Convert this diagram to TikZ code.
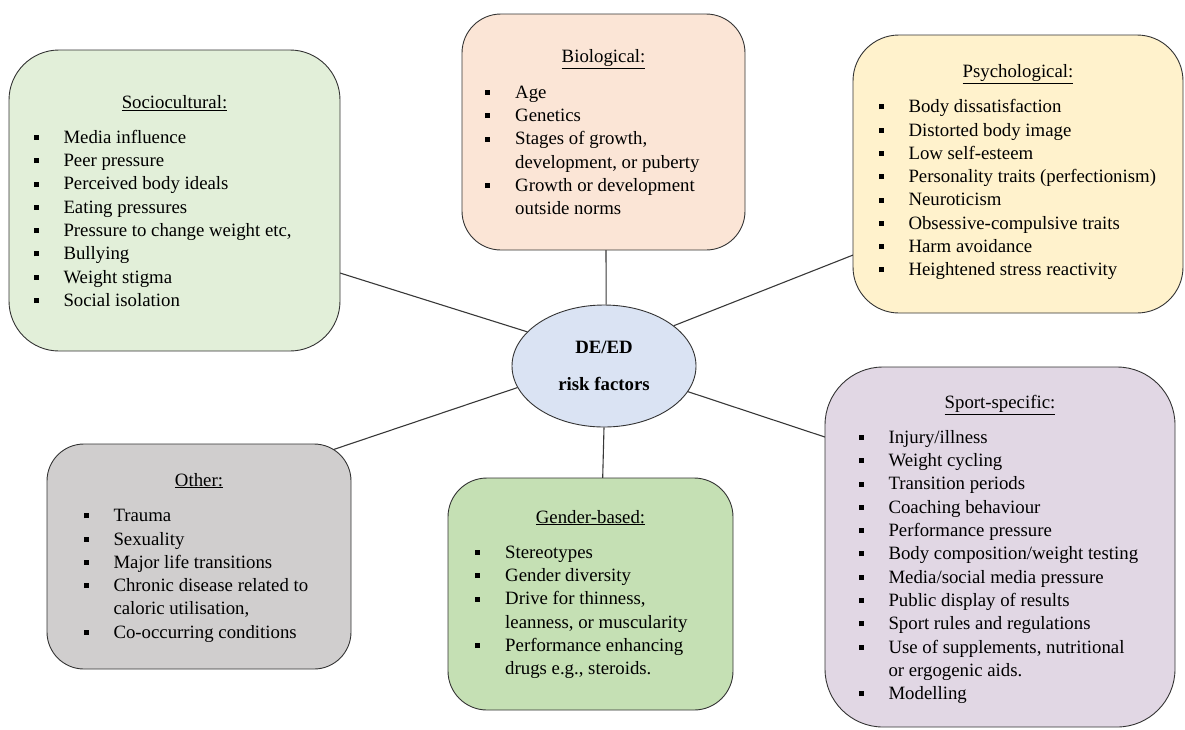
\documentclass[tikz,border=0pt]{standalone}
\usepackage{fontspec}
\setmainfont{Liberation Serif}
\usetikzlibrary{shapes.geometric,backgrounds}
\definecolor{socfill}{HTML}{E2EFD9}
\definecolor{biofill}{HTML}{FBE5D6}
\definecolor{psyfill}{HTML}{FFF2CC}
\definecolor{cenfill}{HTML}{DAE3F3}
\definecolor{othfill}{HTML}{D0CECE}
\definecolor{genfill}{HTML}{C5E0B4}
\definecolor{spofill}{HTML}{E1D7E4}
\tikzset{
  box/.style={draw=black!80, line width=0.9pt, inner sep=0pt},
  conn/.style={draw=black!78, line width=1.1pt},
  ttl/.style={anchor=base, inner sep=0pt, font=\fontsize{18.8}{23.3}\selectfont},
  lst/.style={anchor=base west, inner sep=0pt, font=\fontsize{18.8}{23.3}\selectfont},
}
\newcommand\bx{\hbox to 30pt{\rule[3.4pt]{5pt}{5pt}\hfil}}
\begin{document}
\begin{tikzpicture}[x=1pt,y=-1pt]
\useasboundingbox (0,0) rectangle (1185,729);
% boxes
\node[box, fill=socfill, minimum width=331pt, minimum height=301pt, rounded corners=50pt] (soc) at (174.5,200.5) {};
\node[box, fill=biofill, minimum width=283pt, minimum height=236pt, rounded corners=39pt] (bio) at (603.5,132) {};
\node[box, fill=psyfill, minimum width=330pt, minimum height=278pt, rounded corners=46pt] (psy) at (1018,174) {};
\node[box, fill=othfill, minimum width=304pt, minimum height=225pt, rounded corners=37pt] (oth) at (199,556.5) {};
\node[box, fill=genfill, minimum width=285pt, minimum height=232pt, rounded corners=39pt] (gen) at (590.5,594) {};
\node[box, fill=spofill, minimum width=350pt, minimum height=360pt, rounded corners=58pt] (spo) at (1000,547) {};
\node[box, ellipse, fill=cenfill, minimum width=184pt, minimum height=122pt] (c) at (604,366) {};
% centre text
\node[ttl, font=\fontsize{18.8}{23.3}\selectfont\bfseries] (c1) at (604,353.3) {DE/ED};
\node[ttl, font=\fontsize{18.8}{23.3}\selectfont\bfseries] (c2) at (604,390) {risk factors};
% connectors (ends hidden under box fills)
\coordinate (socp) at (332,270.5);
\coordinate (psyp) at (861,251.9);
\coordinate (othp) at (330,450.7);
\coordinate (spop) at (833,439.7);
\coordinate (biop) at (606,245);
\coordinate (genp) at (602.5,485);
\begin{scope}[on background layer]
\draw[conn] (c.156) -- (socp);
\draw[conn] (c.30) -- (psyp);
\draw[conn] (c.194) -- (othp);
\draw[conn] (c.-17) -- (spop);
\draw[conn] (c.88.5) -- (biop);
\draw[conn] (c.-90.8) -- (genp);
\end{scope}
% titles
\node[ttl] (soct) at (174.5,108.3) {\underline{Sociocultural:}};
\node[ttl] (biot) at (603.5,62.5) {\underline{Biological:}};
\node[ttl] (psyt) at (1018,77.7) {\underline{Psychological:}};
\node[ttl] (otht) at (199,486) {\underline{Other:}};
\node[ttl] (gent) at (590.5,523) {\underline{Gender-based:}};
\node[ttl] (spot) at (1000,408.5) {\underline{Sport-specific:}};
% lists
\node[lst] (socl) at (33.3,143.3) {\begin{tabular}[t]{@{}l@{}l@{}}
\bx&Media influence\\
\bx&Peer pressure\\
\bx&Perceived body ideals\\
\bx&Eating pressures\\
\bx&Pressure to change weight etc,\\
\bx&Bullying\\
\bx&Weight stigma\\
\bx&Social isolation
\end{tabular}};
\node[lst] (biol) at (485,98.3) {\begin{tabular}[t]{@{}l@{}l@{}}
\bx&Age\\
\bx&Genetics\\
\bx&Stages of growth,\\
&development, or puberty\\
\bx&Growth or development\\
&outside norms
\end{tabular}};
\node[lst] (psyl) at (878.3,112.7) {\begin{tabular}[t]{@{}l@{}l@{}}
\bx&Body dissatisfaction\\
\bx&Distorted body image\\
\bx&Low self-esteem\\
\bx&Personality traits (perfectionism)\\
\bx&Neuroticism\\
\bx&Obsessive-compulsive traits\\
\bx&Harm avoidance\\
\bx&Heightened stress reactivity
\end{tabular}};
\node[lst] (othl) at (83.3,521.7) {\begin{tabular}[t]{@{}l@{}l@{}}
\bx&Trauma\\
\bx&Sexuality\\
\bx&Major life transitions\\
\bx&Chronic disease related to\\
&caloric utilisation,\\
\bx&Co-occurring conditions
\end{tabular}};
\node[lst] (genl) at (475,558.3) {\begin{tabular}[t]{@{}l@{}l@{}}
\bx&Stereotypes\\
\bx&Gender diversity\\
\bx&Drive for thinness,\\
&leanness, or muscularity\\
\bx&Performance enhancing\\
&drugs e.g., steroids.
\end{tabular}};
\node[lst] (spol) at (858.3,443.3) {\begin{tabular}[t]{@{}l@{}l@{}}
\bx&Injury/illness\\
\bx&Weight cycling\\
\bx&Transition periods\\
\bx&Coaching behaviour\\
\bx&Performance pressure\\
\bx&Body composition/weight testing\\
\bx&Media/social media pressure\\
\bx&Public display of results\\
\bx&Sport rules and regulations\\
\bx&Use of supplements, nutritional\\
&or ergogenic aids.\\
\bx&Modelling
\end{tabular}};
\end{tikzpicture}
\end{document}
